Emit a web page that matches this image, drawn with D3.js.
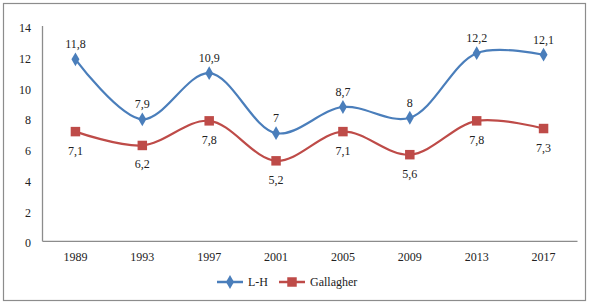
<!DOCTYPE html>
<html>
<head>
<meta charset="utf-8">
<script src="https://cdn.jsdelivr.net/npm/d3@7"></script>
<style>
  body { margin: 0; background: #fff; }
</style>
</head>
<body>
<div id="chart"></div>
<script>
const years = ['1989', '1993', '1997', '2001', '2005', '2009', '2013', '2017'];
const lh = [11.8, 7.9, 10.9, 7, 8.7, 8, 12.2, 12.1];
const gallagher = [7.1, 6.2, 7.8, 5.2, 7.1, 5.6, 7.8, 7.3];
const yTicks = [0, 2, 4, 6, 8, 10, 12, 14];

const width = 590;
const height = 305;
const margin = { top: 25.5, bottom: 64.2, left: 42, right: 13 };
const serif = "'Liberation Serif', 'Times New Roman', 'DejaVu Serif', serif";

const svg = d3.select('#chart')
    .append('svg')
    .attr('width', width)
    .attr('height', height)
    .style('font-family', serif);

// frame
svg.append('rect')
    .attr('x', 3.5).attr('y', 3.5)
    .attr('width', 582).attr('height', 297)
    .attr('fill', 'none')
    .attr('stroke', '#8c8c8c')
    .attr('stroke-width', 1.2);

const x = d3.scaleBand()
    .domain(years)
    .range([margin.left, width - margin.right]);

const y = d3.scaleLinear()
    .domain([0, 14])
    .range([height - margin.bottom, margin.top]);

const fmt = v => String(v).replace('.', ',');

// y axis
const yAxis = svg.append('g')
    .attr('transform', `translate(${margin.left},0)`)
    .call(d3.axisLeft(y).tickValues(yTicks).tickSize(0).tickPadding(11).tickFormat(d3.format('d')));
yAxis.attr('font-family', serif);
yAxis.select('.domain').attr('stroke', '#8c8c8c').attr('stroke-width', 1.3);
yAxis.selectAll('text').attr('font-size', '12px').attr('fill', '#222').attr('dy', '0.5em');

// x axis
const xAxis = svg.append('g')
    .attr('transform', `translate(0,${y(0)})`)
    .call(d3.axisBottom(x).tickSize(0).tickPadding(12));
xAxis.attr('font-family', serif);
xAxis.select('.domain').attr('stroke', '#8c8c8c').attr('stroke-width', 1.3);
xAxis.selectAll('text').attr('font-size', '12px').attr('fill', '#222');

const cx = d => x(d) + x.bandwidth() / 2;

const series = [
    { name: 'L-H', values: lh, color: '#4a7ebb', symbol: d3.symbolDiamond, size: 55, dy: -11 },
    { name: 'Gallagher', values: gallagher, color: '#be4b48', symbol: d3.symbolSquare, size: 90, dy: 23 }
];

const line = d3.line()
    .x((d, i) => cx(years[i]))
    .y(d => y(d))
    .curve(d3.curveCatmullRom.alpha(0.5));

series.forEach(s => {
    const g = svg.append('g');
    g.append('path')
        .datum(s.values)
        .attr('d', line)
        .attr('fill', 'none')
        .attr('stroke', s.color)
        .attr('stroke-width', 2.2);
    g.selectAll('path.pt')
        .data(s.values)
        .join('path')
        .attr('class', 'pt')
        .attr('d', d3.symbol().type(s.symbol).size(s.size))
        .attr('transform', (d, i) => `translate(${cx(years[i])},${y(d)})`)
        .attr('fill', s.color);
    g.selectAll('text')
        .data(s.values)
        .join('text')
        .attr('x', (d, i) => cx(years[i]))
        .attr('y', d => y(d) + s.dy)
        .attr('text-anchor', 'middle')
        .attr('font-family', serif)
        .attr('font-size', '12px')
        .attr('fill', '#222')
        .text(fmt);
});

// legend
const legend = svg.append('g').attr('transform', 'translate(0,282)');
const legendX = [217, 279];
const legendText = [248, 310];
series.forEach((s, i) => {
    legend.append('line')
        .attr('x1', legendX[i]).attr('x2', legendX[i] + 26)
        .attr('y1', 0).attr('y2', 0)
        .attr('stroke', s.color)
        .attr('stroke-width', 2.5);
    legend.append('path')
        .attr('d', d3.symbol().type(s.symbol).size(s.size))
        .attr('transform', `translate(${legendX[i] + 13},0)`)
        .attr('fill', s.color);
    legend.append('text')
        .attr('x', legendText[i])
        .attr('y', 0)
        .attr('dy', '0.35em')
        .attr('font-family', serif)
        .attr('font-size', '12px')
        .attr('fill', '#222')
        .text(s.name);
});
</script>
</body>
</html>
